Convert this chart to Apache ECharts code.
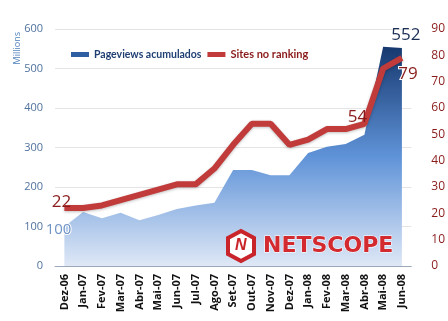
<!DOCTYPE html>
<html><head><meta charset="utf-8">
<script src="https://cdn.jsdelivr.net/npm/echarts@6/dist/echarts.min.js"></script>
<style>html,body{margin:0;padding:0;background:#fff}#c{width:448px;height:321px}</style>
</head><body><div id="c"></div>
<script>
const categories = ['Dez-06','Jan-07','Fev-07','Mar-07','Abr-07','Mai-07','Jun-07','Jul-07','Ago-07','Set-07','Out-07','Nov-07','Dez-07','Jan-08','Fev-08','Mar-08','Abr-08','Mai-08','Jun-08'];
const pageviews = [100,137,121,135,116,129,144,153,160,243,243,230,230,286,302,309,332,555,552];
const sites = [22,22,23,25,27,29,31,31,37,46,54,54,46,48,52,52,54,75,79];
const leftTicks = [0,100,200,300,400,500,600];
const rightTicks = [0,10,20,30,40,50,60,70,80,90];

const chart = echarts.init(document.getElementById('c'));
const halo = {textBorderColor:'#fff',textBorderWidth:2};
const pvLabels = {
  0:{text:'100',position:'left',color:'#6f93c4',fontSize:15,distance:2,offset:[9,3],...halo},
  18:{text:'552',position:'top',color:'#1a2f55',fontSize:17,distance:4,offset:[4,0]}
};
const stLabels = {
  0:{text:'22',position:'top',color:'#8b1a1a',fontSize:17,distance:2,offset:[-3,5]},
  16:{text:'54',position:'top',color:'#8b1a1a',fontSize:17,distance:4,offset:[-7,6]},
  18:{text:'79',position:'bottom',color:'#8b1a1a',fontSize:17,distance:4,offset:[6,4],...halo}
};
function withLabels(values, labels){
  return values.map((v,i)=>{
    const o={value:v};
    if(labels[i]){ const l=labels[i]; o.label=Object.assign({show:true,formatter:l.text},l); delete o.label.text; }
    return o;
  });
}
chart.setOption({
  animation:false,
  textStyle:{fontFamily:'Open Sans, sans-serif'},
  grid:{left:55,right:32,top:29,bottom:55},
  legend:{
    top:44,left:66,itemGap:6,itemWidth:18,itemHeight:5,
    textStyle:{fontSize:10.5,fontFamily:'Lato, sans-serif',fontWeight:'bold'},
    data:[
      {name:'Pageviews acumulados',icon:'rect',itemStyle:{color:'#2e5fa3',opacity:1},textStyle:{color:'#1f3f73'}},
      {name:'Sites no ranking',icon:'rect',itemStyle:{color:'#c23b3b',opacity:1},textStyle:{color:'#8b1a1a',fontSize:11}}
    ]
  },
  xAxis:{type:'category',data:categories,boundaryGap:true,
    axisLine:{lineStyle:{color:'#9aa8b8'}},axisTick:{show:false},
    axisLabel:{rotate:90,interval:0,color:'#111',fontWeight:'bold',fontSize:11}},
  yAxis:[
    {type:'value',min:0,max:600,interval:100,
     axisLabel:{color:'#50739e',fontSize:11,margin:12},
     splitLine:{lineStyle:{color:'#e4e4e4'}}},
    {type:'value',min:0,max:90,interval:10,position:'right',
     axisLabel:{color:'#8b1a1a',fontSize:12,margin:20},splitLine:{show:false}}
  ],
  series:[
    {name:'Pageviews acumulados',type:'line',yAxisIndex:0,data:withLabels(pageviews,pvLabels),
     symbol:'circle',symbolSize:0,showSymbol:true,lineStyle:{width:0},
     itemStyle:{color:'#2e5fa3'},
     areaStyle:{opacity:1,color:new echarts.graphic.LinearGradient(0,0,0,1,[
       {offset:0,color:'#16386f'},{offset:0.5,color:'#5f93d8'},{offset:1,color:'#dfe8f6'}])},
     z:1},
    {name:'Sites no ranking',type:'line',yAxisIndex:1,data:withLabels(sites,stLabels),
     symbol:'circle',symbolSize:0,showSymbol:true,
     lineStyle:{width:6,color:'#c23b3b',shadowColor:'rgba(0,0,0,0.25)',shadowBlur:3,shadowOffsetY:1},
     itemStyle:{color:'#c23b3b'},z:3}
  ],
  graphic:[
    {type:'text',left:13,top:32,rotation:Math.PI/2,z:100,
     style:{text:'Millions',fill:'#4f81bd',font:'9px Open Sans, sans-serif'}},
    {type:'group',left:226,top:229,z:100,children:[
      {type:'polygon',z:100,shape:{points:[[14,1],[27,8],[27,24],[14,31],[1,24],[1,8]]},
       style:{fill:'#fff',stroke:'#c8242a',lineWidth:4}},
      {type:'text',z:101,style:{text:'N',x:8,y:8,fill:'#c8242a',font:'bold italic 16px sans-serif'}},
      {type:'text',z:101,style:{text:'NETSCOPE',x:36,y:5,fill:'#d32a30',stroke:'#fff',lineWidth:1,font:'bold 22px DejaVu Sans, sans-serif'}}
    ]}
  ]
});
</script></body></html>
